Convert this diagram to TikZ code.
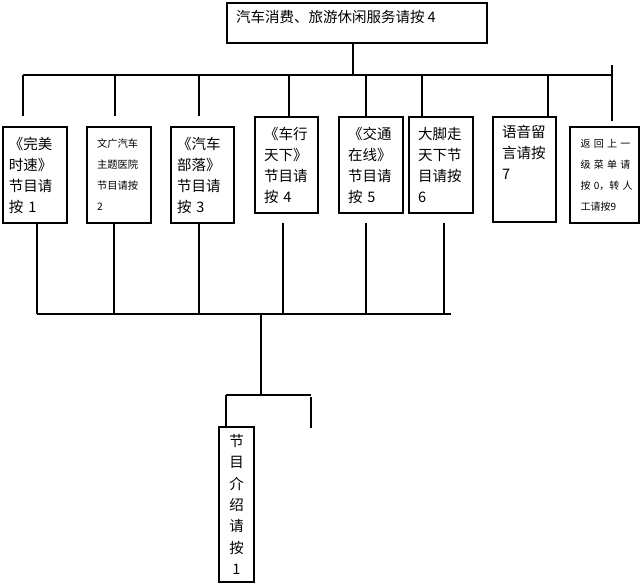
\documentclass[tikz,border=0pt]{standalone}
\usepackage{fontspec}
\newfontfamily\cjk{Noto Sans CJK SC}
\usepackage{tikz}
\tikzstyle{boxline} = [draw,line width=1.4pt,inner ysep=0pt,inner xsep=9pt,font=\cjk\fontsize{14.5}{21}\selectfont]
\tikzstyle{menubox} = [boxline,align=left]
\tikzstyle{smallbox} = [menubox,font=\cjk\fontsize{10.3}{21}\selectfont]
\tikzstyle{link} = [line width=1.5pt]

\begin{document}
\begin{tikzpicture}[x=1pt,y=-1pt]
\useasboundingbox (0,0) rectangle (643,586);

%main menu
\node[boxline,inner ysep=7pt] (top) at (357,23) {\parbox[c][26pt][t]{242pt}{汽车消费、旅游休闲服务请按 4}};

%sub menus
\node[menubox,inner xsep=6pt,text width=52pt,minimum height=96pt] (b1) at (35,175) {《完美\\时速》\\节目请\\按 1};
\node[smallbox,inner xsep=10pt,text width=44pt,minimum height=96pt] (b2) at (119,175) {文广汽车\\主题医院\\节目请按\\2};
\node[menubox,inner xsep=6pt,text width=51pt,minimum height=96pt] (b3) at (202.5,175) {《汽车\\部落》\\节目请\\按 3};
\node[menubox,text width=45pt,minimum height=96pt] (b4) at (286.5,165) {《车行\\天下》\\节目请\\按 4};
\node[menubox,text width=46pt,minimum height=96pt] (b5) at (371,165) {《交通\\在线》\\节目请\\按 5};
\node[menubox,text width=46pt,minimum height=96pt] (b6) at (441,165) {大脚走\\天下节\\目请按\\6};
\node[boxline,inner ysep=8pt] (b7) at (524.5,169.5) {\parbox[c][89pt][t]{45pt}{语音留\\言请按\\7}};
\node[smallbox,font=\cjk\fontsize{10}{21}\selectfont,inner xsep=10.5pt,text width=48pt,minimum height=96pt] (b8) at (604.5,175) {返~回~上~一\\级~菜~单~请\\按~0，转~人\\工请按9};

\node[menubox,align=center,inner xsep=7pt,text width=21pt,minimum height=155pt,font=\cjk\fontsize{14.5}{21.3}\selectfont] (b9) at (236.5,504.5) {节\\目\\介\\绍\\请\\按\\1};

%upper tree
\coordinate (hub1) at (353,75);
\coordinate (bar1L) at (23,75);
\coordinate (bar1R) at (612,75);
\coordinate (mast) at (612,65);
\draw[link] (top.south -| hub1) -- (hub1);
\draw[link] (bar1L) -- (bar1R);
\draw[link] (mast) -- (bar1R);
\foreach \n/\x/\g in {b1/23/10pt,b2/115/10pt,b3/199/10pt,b4/289/0pt,b5/366/0pt,b6/422/0pt,b7/548/0pt,b8/612/5pt}
{
\coordinate (up\n) at (\x,75);
\draw[link,shorten >=\g] (up\n) -- (up\n |- \n.north);
}

%lower tree
\coordinate (bar2L) at (37,314);
\coordinate (bar2R) at (451,314);
\foreach \n/\x/\g in {b1/37/0pt,b2/114/0pt,b3/199/0pt,b4/283/9pt,b5/366/9pt,b6/444/9pt}
{
\coordinate (dn\n) at (\x,314);
\draw[link,shorten <=\g] (dn\n |- \n.south) -- (dn\n);
}
\draw[link] (bar2L) -- (bar2R);

\coordinate (hub2) at (261,314);
\coordinate (hub3) at (261,395);
\coordinate (bar3L) at (226,395);
\coordinate (bar3R) at (311,395);
\coordinate (stubT) at (311,397);
\coordinate (stubB) at (311,428);
\draw[link] (hub2) -- (hub3);
\draw[link] (bar3L) -- (bar3R);
\draw[link] (bar3L) -- (bar3L |- b9.north);
\draw[link] (stubT) -- (stubB);

\end{tikzpicture}
\end{document}
